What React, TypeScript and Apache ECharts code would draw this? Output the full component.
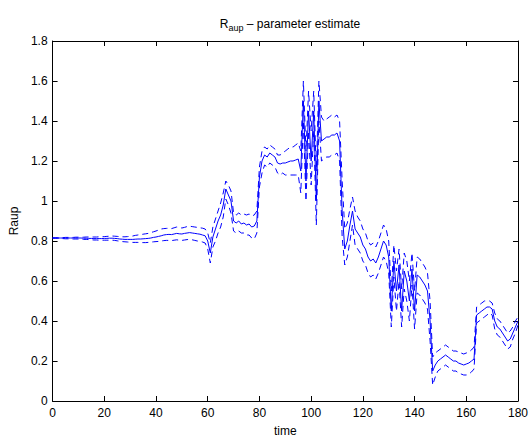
import React, { useEffect, useRef } from "react";
import * as echarts from "echarts";

const time: number[] = Array.from({ length: 181 }, (_, i) => i);

const estimate: number[] = [
  0.815, 0.815, 0.815, 0.815, 0.815, 0.815, 0.815, 0.815, 0.815, 0.815,
  0.815, 0.815, 0.814, 0.814, 0.813, 0.813, 0.812, 0.812, 0.812, 0.812,
  0.813, 0.813, 0.814, 0.814, 0.813, 0.812, 0.81, 0.809, 0.808, 0.808,
  0.808, 0.808, 0.809, 0.81, 0.81, 0.811, 0.812, 0.813, 0.815, 0.818,
  0.82, 0.823, 0.826, 0.83, 0.832, 0.833, 0.832, 0.835, 0.838, 0.836,
  0.835, 0.838, 0.84, 0.842, 0.84, 0.838, 0.836, 0.834, 0.83, 0.826,
  0.8, 0.74, 0.82, 0.86, 0.9, 0.93, 0.98, 1.06, 1.03, 1.0,
  0.9, 0.89, 0.9, 0.885, 0.89, 0.88, 0.885, 0.87, 0.875, 0.9,
  1.12, 1.2, 1.23, 1.22, 1.24, 1.23, 1.22, 1.19, 1.185, 1.19,
  1.19, 1.195, 1.2, 1.2, 1.205, 1.21, 1.15, 1.5, 1.1, 1.45,
  1.2, 1.45, 1.0, 1.5, 1.3, 1.31, 1.32, 1.32, 1.33, 1.33,
  1.34, 1.3, 0.95, 0.76, 0.8, 0.88, 0.95, 0.86, 0.84, 0.82,
  0.78, 0.76, 0.72, 0.7, 0.71, 0.69, 0.72, 0.76, 0.8, 0.78,
  0.72, 0.45, 0.7, 0.55, 0.68, 0.45, 0.65, 0.6, 0.5, 0.66,
  0.45, 0.63, 0.62, 0.6, 0.58, 0.55, 0.4, 0.15, 0.18, 0.2,
  0.21, 0.22, 0.23, 0.22, 0.21, 0.2, 0.2, 0.19, 0.185, 0.18,
  0.185, 0.19, 0.2, 0.21, 0.43, 0.44, 0.45, 0.46, 0.47, 0.47,
  0.46, 0.4, 0.37, 0.36, 0.34, 0.32, 0.3, 0.31, 0.34, 0.37,
  0.4,
];

const upper: number[] = [
  0.816, 0.816, 0.817, 0.817, 0.817, 0.818, 0.818, 0.818, 0.818, 0.819,
  0.819, 0.819, 0.819, 0.82, 0.82, 0.82, 0.82, 0.82, 0.821, 0.821,
  0.822, 0.823, 0.824, 0.825, 0.824, 0.823, 0.822, 0.821, 0.821, 0.822,
  0.823, 0.825, 0.828, 0.83, 0.832, 0.834, 0.836, 0.838, 0.842, 0.846,
  0.85, 0.855, 0.86, 0.862, 0.863, 0.864, 0.862, 0.866, 0.87, 0.868,
  0.865, 0.868, 0.872, 0.874, 0.872, 0.87, 0.868, 0.866, 0.864, 0.86,
  0.84, 0.79, 0.87, 0.91, 0.95, 0.99, 1.04, 1.1, 1.08, 1.05,
  0.94, 0.93, 0.94, 0.93, 0.935, 0.93, 0.935, 0.925, 0.93, 0.95,
  1.17, 1.25, 1.27, 1.26, 1.28, 1.27, 1.26, 1.23, 1.23, 1.24,
  1.25, 1.26, 1.27, 1.27, 1.28, 1.29, 1.25, 1.6, 1.25, 1.55,
  1.35, 1.55, 1.15, 1.6, 1.42, 1.4, 1.41, 1.42, 1.43, 1.42,
  1.43, 1.4, 1.1, 0.86, 0.89, 0.96, 1.02, 0.95, 0.92, 0.9,
  0.86, 0.84, 0.8, 0.78, 0.79, 0.77, 0.8, 0.84, 0.88, 0.86,
  0.8, 0.55, 0.78, 0.65, 0.76, 0.56, 0.74, 0.7, 0.6, 0.74,
  0.55, 0.72, 0.71, 0.69, 0.67, 0.64, 0.5, 0.22, 0.24, 0.25,
  0.26, 0.27, 0.28, 0.27, 0.26, 0.25, 0.25, 0.245, 0.24, 0.235,
  0.24, 0.245, 0.255, 0.27, 0.47, 0.48, 0.49, 0.5, 0.5, 0.5,
  0.49, 0.44, 0.41, 0.4, 0.38, 0.36, 0.34, 0.35, 0.37, 0.4,
  0.42,
];

const lower: number[] = [
  0.814, 0.814, 0.813, 0.812, 0.812, 0.811, 0.811, 0.81, 0.81, 0.81,
  0.81, 0.809, 0.808, 0.808, 0.807, 0.806, 0.805, 0.805, 0.804, 0.804,
  0.804, 0.804, 0.804, 0.804, 0.803, 0.801, 0.799, 0.797, 0.796, 0.795,
  0.794, 0.793, 0.793, 0.793, 0.792, 0.792, 0.792, 0.793, 0.794, 0.796,
  0.797, 0.798, 0.8, 0.802, 0.803, 0.803, 0.802, 0.804, 0.806, 0.804,
  0.803, 0.805, 0.807, 0.808, 0.806, 0.803, 0.8, 0.798, 0.795, 0.79,
  0.76, 0.69, 0.77, 0.8, 0.84, 0.87, 0.92, 1.01, 0.98, 0.94,
  0.85, 0.84, 0.85, 0.84, 0.84, 0.83, 0.83, 0.815, 0.81, 0.84,
  1.07, 1.14, 1.18, 1.17, 1.19, 1.18, 1.17, 1.14, 1.13, 1.14,
  1.13, 1.13, 1.13, 1.13, 1.13, 1.13, 1.04, 1.4, 1.0, 1.35,
  1.08, 1.35, 0.88, 1.4, 1.2, 1.21, 1.22, 1.22, 1.23, 1.23,
  1.24, 1.2, 0.82, 0.68, 0.72, 0.8, 0.88, 0.78, 0.76, 0.74,
  0.7, 0.68, 0.64, 0.62, 0.63, 0.61, 0.64, 0.68, 0.72, 0.7,
  0.64, 0.37, 0.62, 0.45, 0.6, 0.37, 0.56, 0.5, 0.4, 0.58,
  0.36, 0.54, 0.53, 0.51, 0.49, 0.46, 0.3, 0.08, 0.12, 0.15,
  0.16, 0.17, 0.18, 0.17, 0.16, 0.15, 0.15, 0.14, 0.135, 0.13,
  0.13, 0.135, 0.145, 0.16, 0.39, 0.4, 0.41, 0.42, 0.43, 0.44,
  0.43, 0.36, 0.33, 0.32, 0.3, 0.28, 0.26, 0.27, 0.31, 0.34,
  0.38,
];

const FONT = "Liberation Sans, Arial, Helvetica, sans-serif";

export default function App() {
  const ref = useRef<HTMLDivElement>(null);
  useEffect(() => {
    if (!ref.current) return;
    const chart = echarts.init(ref.current, undefined, { renderer: "svg" });
    const pair = (arr: number[]) => time.map((t, i) => [t, arr[i]]);
    const axisCommon = {
      type: "value" as const,
      axisLine: { show: true, onZero: false, lineStyle: { color: "#000", width: 1 } },
      axisTick: { show: true, inside: true, length: 5, lineStyle: { color: "#000" } },
      splitLine: { show: false },
    };
    chart.setOption({
      animation: false,
      backgroundColor: "#fff",
      textStyle: { fontFamily: FONT },
      title: {
        text: "{a|R}{b|aup}{a| – parameter estimate}",
        left: 285,
        top: 11,
        textAlign: "center",
        textStyle: {
          fontWeight: "normal",
          rich: {
            a: { fontFamily: FONT, fontSize: 12, fontWeight: "normal", color: "#000", lineHeight: 16 },
            b: { fontFamily: FONT, fontSize: 9, fontWeight: "normal", color: "#000", lineHeight: 16, padding: [7, 0, 0, 0] },
          },
        },
      },
      grid: { left: 52, right: 13, top: 41, bottom: 32, containLabel: false },
      xAxis: [
        {
          ...axisCommon,
          min: 0,
          max: 180,
          interval: 20,
          position: "bottom",
          name: "time",
          nameLocation: "middle",
          nameGap: 24,
          nameTextStyle: { fontFamily: FONT, fontSize: 12, color: "#000" },
          axisLabel: { fontFamily: FONT, fontSize: 12, color: "#000", margin: 6 },
        },
        {
          ...axisCommon,
          min: 0,
          max: 180,
          interval: 20,
          position: "top",
          axisLabel: { show: false },
        },
      ],
      yAxis: [
        {
          ...axisCommon,
          min: 0,
          max: 1.8,
          interval: 0.2,
          position: "left",
          name: "Raup",
          nameLocation: "middle",
          nameGap: 28,
          nameTextStyle: { fontFamily: FONT, fontSize: 12, color: "#000" },
          axisLabel: {
            fontFamily: FONT,
            fontSize: 12,
            color: "#000",
            margin: 5,
            formatter: (v: number) => String(Math.round(v * 10) / 10),
          },
        },
        {
          ...axisCommon,
          min: 0,
          max: 1.8,
          interval: 0.2,
          position: "right",
          axisLabel: { show: false },
        },
      ],
      series: [
        {
          type: "line",
          name: "upper",
          data: pair(upper),
          showSymbol: false,
          symbol: "none",
          lineStyle: { color: "#0000ff", width: 1, type: [6, 4] },
        },
        {
          type: "line",
          name: "lower",
          data: pair(lower),
          showSymbol: false,
          symbol: "none",
          lineStyle: { color: "#0000ff", width: 1, type: [6, 4] },
        },
        {
          type: "line",
          name: "estimate",
          data: pair(estimate),
          showSymbol: false,
          symbol: "none",
          lineStyle: { color: "#0000ff", width: 1 },
        },
      ],
    });
    return () => chart.dispose();
  }, []);
  return (
    <div
      ref={ref}
      style={{ position: "absolute", left: 0, top: 0, width: 531, height: 442 }}
    />
  );
}
